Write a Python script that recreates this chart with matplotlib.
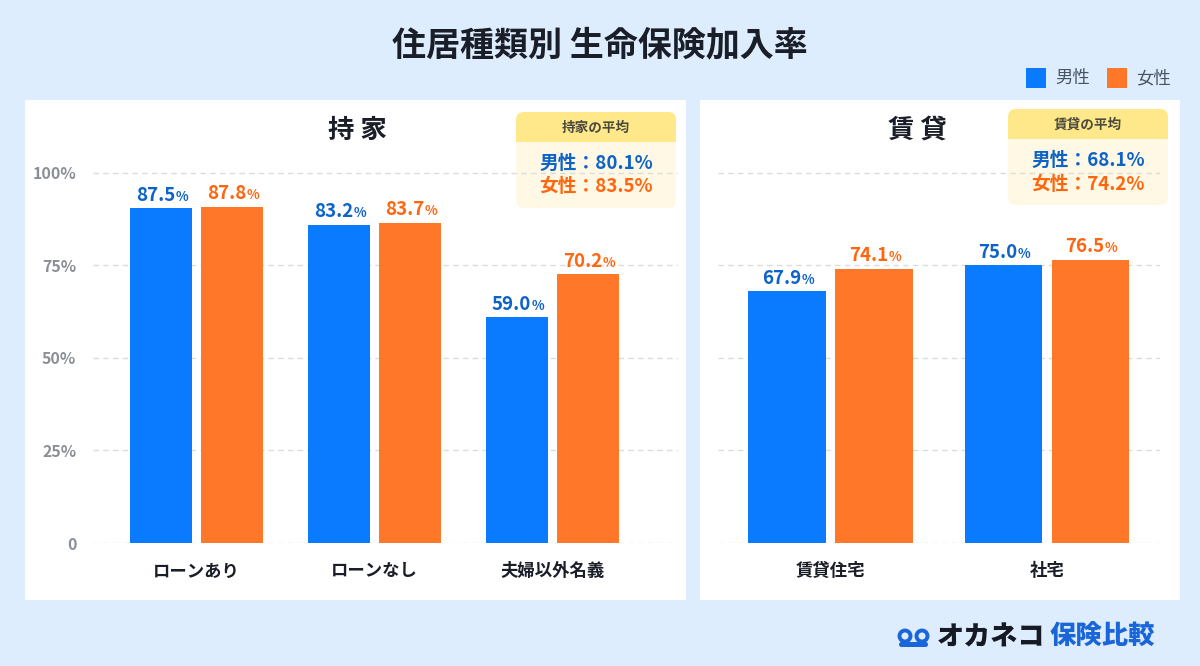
import matplotlib
matplotlib.use("Agg")
import matplotlib.pyplot as plt
from matplotlib.patches import Rectangle, FancyBboxPatch, Circle
from matplotlib.transforms import Affine2D
import numpy as np

plt.rcParams['font.family'] = ['Noto Sans CJK JP', 'DejaVu Sans']

# data
own_cats = ["ローンあり", "ローンなし", "夫婦以外名義"]
own_male = [87.5, 83.2, 59.0]
own_female = [87.8, 83.7, 70.2]
rent_cats = ["賃貸住宅", "社宅"]
rent_male = [67.9, 75.0]
rent_female = [74.1, 76.5]
own_avg = (80.1, 83.5)
rent_avg = (68.1, 74.2)
tick_vals = [0, 25, 50, 75, 100]
tick_labels = ["0", "25%", "50%", "75%", "100%"]

BG = "#deedfd"
BLUE = "#0a7bff"
ORANGE = "#ff7728"
BLUE_TXT = "#0d63c8"
ORANGE_TXT = "#ff6610"
DARK = "#1a1e28"
GRAY = "#8a8f97"

W, H = 1200, 666
fig = plt.figure(figsize=(12, 6.66), dpi=100, facecolor=BG)
# pixel coords, origin top-left
px = Affine2D().scale(1 / W, -1 / H).translate(0, 1) + fig.transFigure


def rect(x0, y0, x1, y1, color, z=-1):
    fig.patches.append(Rectangle((x0, y0), x1 - x0, y1 - y0, transform=px,
                                 facecolor=color, edgecolor="none", zorder=z))


def rbox(x0, y0, x1, y1, color, r=8, z=-1):
    fig.patches.append(FancyBboxPatch((x0, y0), x1 - x0, y1 - y0,
                                      boxstyle=f"round,pad=0,rounding_size={r}",
                                      transform=px, facecolor=color,
                                      edgecolor="none", zorder=z))


# panels
rect(25, 100, 686, 600, "white")
rect(700, 100, 1180, 600, "white")

fig.text(600, 45, "住居種類別 生命保険加入率", transform=px, ha="center", va="center",
         fontsize=24.5, fontweight="bold", color=DARK)

# legend
rect(1026, 68, 1046, 88, BLUE, z=1)
fig.text(1055, 78, "男性", transform=px, ha="left", va="center", fontsize=12.5, color="#4a5361")
rect(1107, 68, 1127, 88, ORANGE, z=1)
fig.text(1136, 78, "女性", transform=px, ha="left", va="center", fontsize=12.5, color="#4a5361")


def panel(rect_px, cats, male, female, ylim_top, xlim, width, off, title, title_x, show_y):
    x0, x1 = rect_px
    ax = fig.add_axes([x0 / W, 1 - 543 / H, (x1 - x0) / W, 383 / H])
    ax.set_facecolor("none")
    ax.set_zorder(2)
    x = np.arange(len(cats))
    ax.bar(x - off, male, width, color=BLUE, zorder=3)
    ax.bar(x + off, female, width, color=ORANGE, zorder=3)
    ax.set_ylim(0, ylim_top)
    ax.set_xlim(*xlim)
    ticks = [t * ylim_top / 103.4 for t in tick_vals]
    ax.set_yticks(ticks, tick_labels if show_y else [""] * len(ticks),
                  fontsize=11.5, fontweight="bold", color=GRAY)
    ax.set_xticks(x, cats, fontsize=12.5, fontweight="bold", color=DARK)
    ax.tick_params(length=0)
    ax.tick_params(axis="x", pad=14)
    ax.tick_params(axis="y", pad=12)
    ax.grid(axis="y", color="#dcdcdc", linestyle=(0, (4, 3)), linewidth=1)
    ax.set_axisbelow(True)
    for s in ax.spines.values():
        s.set_visible(False)
    for xs, vals, col in ((x - off, male, BLUE_TXT), (x + off, female, ORANGE_TXT)):
        for xi, v in zip(xs, vals):
            t = ax.annotate(f"{v:.1f}", (xi, v), xytext=(-4, 5.5), textcoords="offset points",
                            ha="center", va="baseline", fontsize=13.5, fontweight="bold", color=col)
            ax.annotate("%", (1, v), xycoords=(t, "data"), xytext=(0.3, 5.5),
                        textcoords="offset points", ha="left", va="baseline",
                        fontsize=9.5, fontweight="bold", color=col)
    fig.text(title_x, 130, title, transform=px, ha="center", va="center",
             fontsize=19, fontweight="bold", color=DARK)
    return ax


panel((93, 678), own_cats, own_male, own_female, 100.1, (-0.581, 2.705), 0.348, 0.1994,
      "持 家", 357, True)
panel((718, 1160), rent_cats, rent_male, rent_female, 103.4, (-0.52, 1.522), 0.36, 0.201,
      "賃 貸", 917, False)


def avg_box(x0, y0, x1, y1, head, vals):
    hb = y0 + 30
    rbox(x0, y0, x1, y1, "#fff8e4", z=1)
    rbox(x0, y0, x1, hb, "#ffe889", z=1.1)
    rect(x0, hb - 10, x1, hb, "#ffe889", z=1.1)
    cx = (x0 + x1) / 2
    fig.text(cx, y0 + 16, head, transform=px, ha="center", va="center",
             fontsize=9.8, fontweight="bold", color="#4b4a3e", zorder=5)
    fig.text(cx, y0 + 51, f"男性：{vals[0]:.1f}%", transform=px, ha="center", va="center",
             fontsize=13.5, fontweight="bold", color=BLUE_TXT, zorder=5)
    fig.text(cx, y0 + 75, f"女性：{vals[1]:.1f}%", transform=px, ha="center", va="center",
             fontsize=13.5, fontweight="bold", color=ORANGE_TXT, zorder=5)


avg_box(516, 112, 676, 208, "持家の平均", own_avg)
avg_box(1008, 109, 1168, 205, "賃貸の平均", rent_avg)

# logo
LOGO_BLUE = "#1a66d9"
for cx in (905, 922):
    fig.patches.append(Circle((cx, 636), 5.5, transform=px, facecolor="none",
                              edgecolor=LOGO_BLUE, linewidth=2.8, zorder=3))
rbox(899, 642, 928, 647, LOGO_BLUE, r=2.5, z=3)
fig.text(937, 637, "オカネコ", transform=px, ha="left", va="center",
         fontsize=19.5, fontweight="heavy", color="#151a24")
fig.text(1050, 637, "保険比較", transform=px, ha="left", va="center",
         fontsize=19, fontweight="heavy", color=LOGO_BLUE)

fig.savefig("out.png", dpi=100, facecolor=BG)
